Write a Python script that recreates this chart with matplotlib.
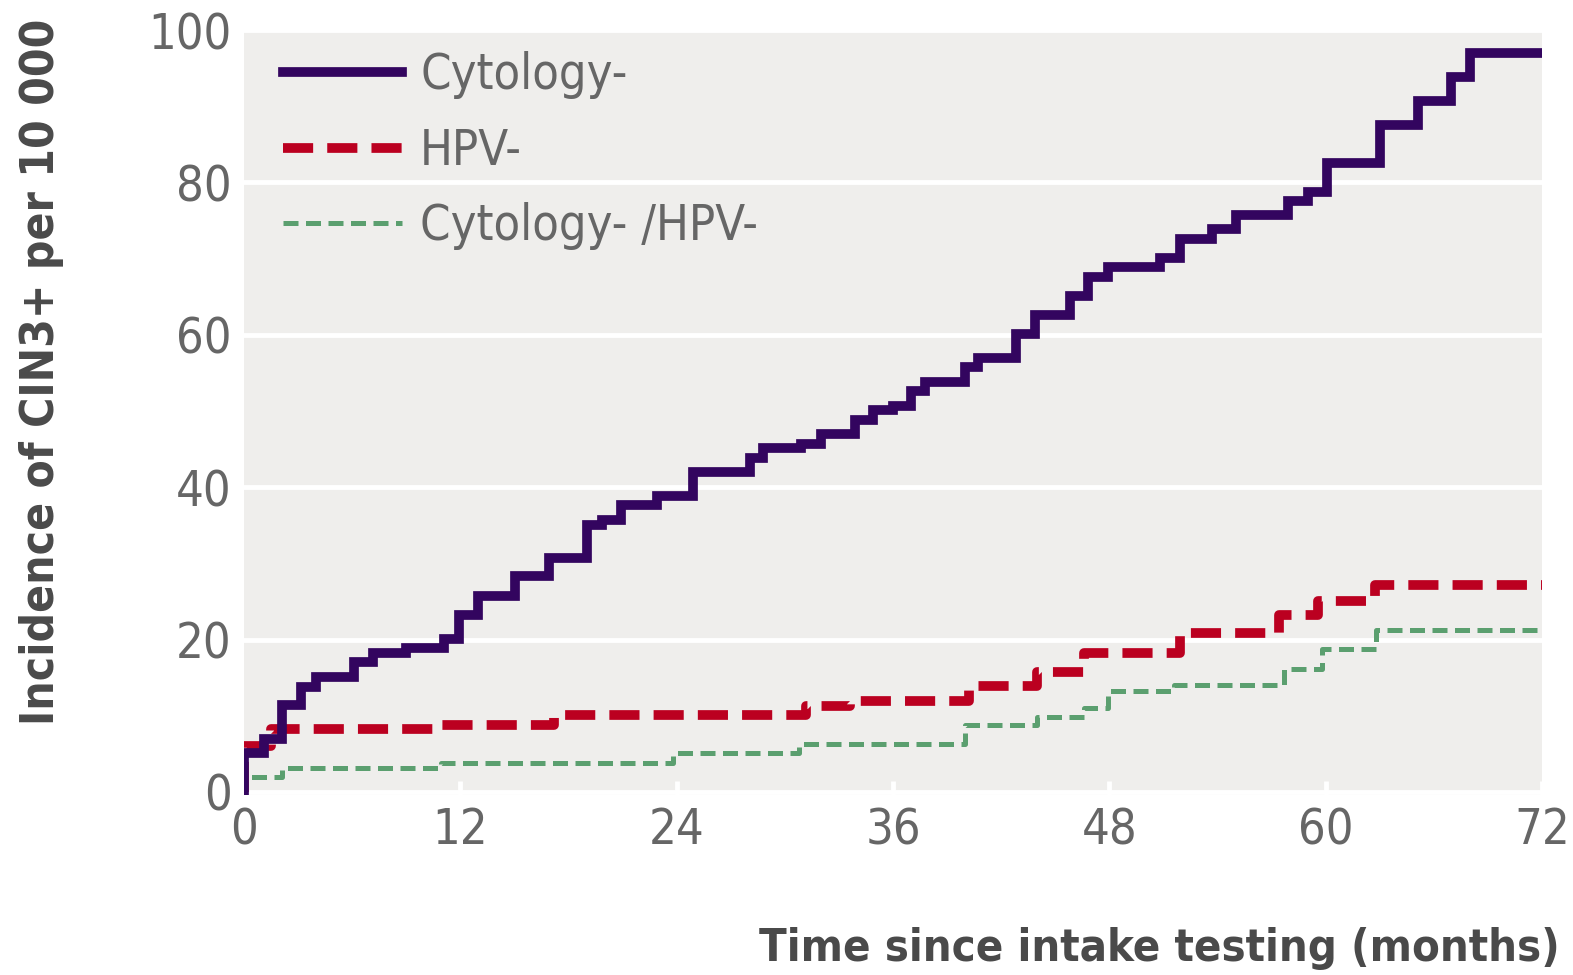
import matplotlib
matplotlib.use("Agg")
import matplotlib.pyplot as plt

plt.rcParams["font.family"] = ["DejaVu Sans"]
plt.rcParams["font.stretch"] = "condensed"

# ---------------- data ----------------
months_max = 72
x_ticks = [0, 12, 24, 36, 48, 60, 72]
y_ticks = [0, 20, 40, 60, 80, 100]

cyto_t = [0, 1.1, 2.1, 3.15, 4.0, 6.1, 7.15, 9.0, 11.1, 11.9, 13.0, 15.05, 16.9, 19.05,
          19.85, 20.9, 22.9, 24.9, 28.05, 28.8, 30.9, 32.0, 33.9, 34.9, 36.0, 37.0, 37.8,
          40.0, 40.7, 42.8, 43.9, 45.8, 46.8, 47.9, 50.8, 51.9, 53.7, 55.0, 57.9, 59.0,
          60.1, 63.0, 65.1, 66.95, 68.0]
cyto_v = [5.1, 6.9, 11.4, 13.8, 15.1, 17.0, 18.3, 18.9, 20.1, 23.2, 25.7, 28.3, 30.7, 35.1,
          35.7, 37.6, 38.8, 42.0, 43.8, 45.1, 45.7, 47.0, 48.8, 50.1, 50.7, 52.6, 53.8,
          55.8, 57.0, 60.1, 62.6, 65.1, 67.6, 68.9, 70.1, 72.6, 73.9, 75.7, 77.5, 78.8,
          82.6, 87.5, 90.7, 93.8, 97.0]

hpv_t = [0, 1.5, 10.9, 17.2, 31.2, 33.6, 40.2, 44.0, 46.6, 51.9, 57.4, 59.6, 62.75]
hpv_v = [6.0, 8.2, 8.8, 10.1, 11.3, 11.9, 13.9, 15.7, 18.3, 20.8, 23.2, 25.1, 27.1]

both_t = [0, 2.1, 10.9, 23.8, 30.8, 40.0, 44.0, 46.6, 47.9, 51.6, 57.7, 59.8, 62.8]
both_v = [2.0, 3.2, 3.8, 5.1, 6.3, 8.8, 9.9, 11.0, 13.2, 14.1, 16.1, 18.7, 21.2]

labels = ["Cytology-", "HPV-", "Cytology- /HPV-"]
colors = ["#33055f", "#bb0020", "#5b9f6f"]

# ---------------- figure ----------------
W, H = 1573, 975
fig = plt.figure(figsize=(W / 100, H / 100), dpi=100)
ax = fig.add_axes([244 / W, (H - 795) / H, (1542 - 244) / W, (795 - 30) / H])
ax.set_facecolor("#efeeec")
for s in ax.spines.values():
    s.set_visible(False)


def steps(t, v):
    xs = [0] + list(t) + [months_max]
    ys = [0] + list(v) + [v[-1]]
    return xs, ys


x1, y1 = steps(cyto_t, cyto_v)
x2, y2 = steps(hpv_t, hpv_v)
x3, y3 = steps(both_t, both_v)

ax.plot(x3, y3, drawstyle="steps-post", color=colors[2], lw=3.6,
        dashes=(3.0, 1.5), label=labels[2], zorder=3)
ax.plot(x2, y2, drawstyle="steps-post", color=colors[1], lw=7,
        dashes=(3.1, 1.45), label=labels[1], zorder=4)
ax.plot(x1, y1, drawstyle="steps-post", color=colors[0], lw=7,
        label=labels[0], zorder=5, solid_joinstyle="miter")

ax.set_xlim(0, months_max)
ax.set_ylim(-0.4, 100)
ax.set_xticks(x_ticks)
ax.set_yticks(y_ticks)
ax.set_xticklabels([str(v) for v in x_ticks])
ax.set_yticklabels([str(v) for v in y_ticks])
ax.yaxis.grid(True, color="white", lw=3.5)
ax.set_axisbelow(True)
ax.tick_params(axis="x", direction="in", length=10, width=3.5, color="white",
               labelsize=35, labelcolor="#666666", pad=8)
ax.tick_params(axis="y", length=0, labelsize=35, labelcolor="#666666", pad=9)

h, l = ax.get_legend_handles_labels()
order = [2, 1, 0]
leg = ax.legend([h[i] for i in order], [l[i] for i in order], loc="upper left",
                bbox_to_anchor=(0.030, 0.972), frameon=False, fontsize=35,
                borderpad=0, borderaxespad=0,
                handlelength=2.45, handletextpad=0.37, labelspacing=0.56)
for t in leg.get_texts():
    t.set_color("#666666")

fig.text(1560 / W, 1 - 948 / H, "Time since intake testing (months)", ha="right",
         va="center", fontsize=32.5, fontweight="bold", color="#4a4a4a")
fig.text(42 / W, 1 - 372 / H, "Incidence of CIN3+ per 10 000", rotation=90, ha="center",
         va="center", fontsize=33, fontweight="bold", color="#4a4a4a")

fig.savefig("out.png", dpi=100)
